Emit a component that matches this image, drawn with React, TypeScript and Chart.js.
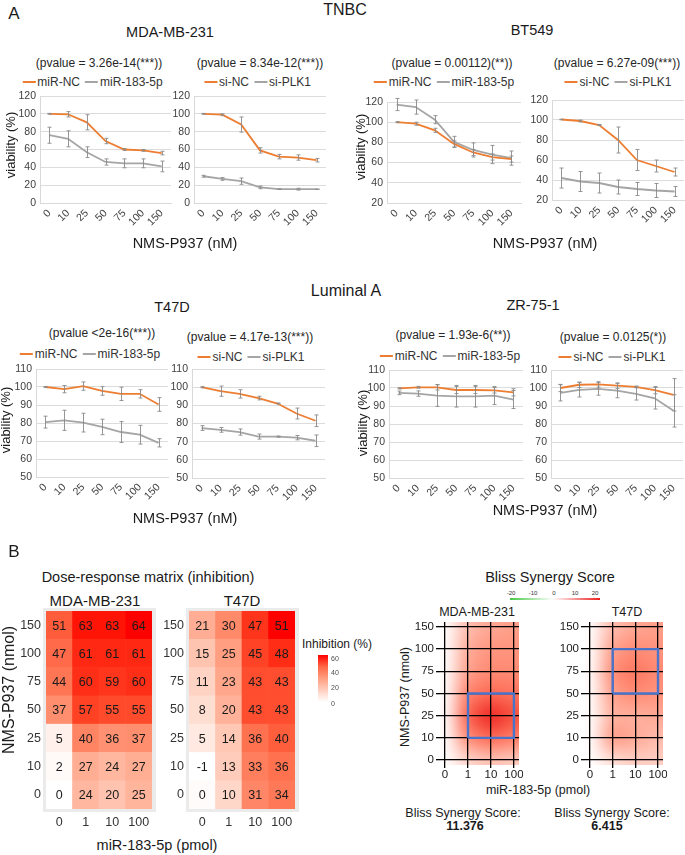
import React, { useEffect, useRef } from 'react';
import { Chart, registerables } from 'chart.js';

Chart.register(...registerables);
const FONT = '"Liberation Sans", Arial, Helvetica, sans-serif';
Chart.defaults.font.family = FONT;

const ORANGE = '#ed7d31';
const GRAY = '#a5a5a5';

// ---------- DATA ----------
const doses = ['0', '10', '25', '50', '75', '100', '150'];
const mirDoses = ['0', '1', '10', '100'];
const heatDoses = ['150', '100', '75', '50', '25', '10', '0'];

// MDA-MB-231
const mdaMiRNC = [100, 99.5, 90.5, 69.5, 60, 59, 56];
const mdaMiRNCErr = [0.5, 3, 8.5, 3, 1, 1, 2];
const mdaMiR183 = [76, 72, 57, 46, 44.5, 44.5, 41];
const mdaMiR183Err = [9, 9, 6, 3.5, 5, 5, 6];
const mdaSiNC = [100, 99, 88, 59, 52, 51, 48];
const mdaSiNCErr = [0.5, 1, 8.5, 3, 2.5, 3, 2];
const mdaSiPLK1 = [30, 27, 24.5, 17.5, 15.5, 15.5, 15.5];
const mdaSiPLK1Err = [1, 1.5, 3.5, 1.5, 0.3, 1, 0.3];

// BT549
const btMiRNC = [100, 98.5, 92, 78.5, 70, 65.5, 63.5];
const btMiRNCErr = [0.5, 1.5, 2, 3, 3, 3, 3];
const btMiR183 = [117.5, 115, 102.5, 80.5, 72.5, 68, 64.5];
const btMiR183Err = [6, 7, 4, 5.5, 7, 9, 7];
const btSiNC = [100.5, 99, 95, 80, 60, 54, 48];
const btSiNCErr = [0.3, 1, 0.5, 13, 10.5, 6, 4];
const btSiPLK1 = [42, 38.5, 37, 33, 31, 29.5, 28.5];
const btSiPLK1Err = [10, 10, 10, 7, 6.5, 7, 5];

// T47D
const t47MiRNC = [100, 98.8, 100.5, 97.8, 96.2, 96.2, 90.3];
const t47MiRNCErr = [0.3, 2, 2.3, 2.4, 3.7, 2.3, 3.8];
const t47MiR183 = [80.5, 81.5, 80.2, 77.8, 75, 73.5, 69];
const t47MiR183Err = [3.3, 5.6, 5.2, 4.3, 5.8, 5.2, 2.3];
const t47SiNC = [100, 97.8, 96.3, 94, 91, 85.5, 81.5];
const t47SiNCErr = [0.3, 2.8, 2.3, 1, 0.3, 3, 3.2];
const t47SiPLK1 = [77.5, 76.5, 75.3, 72.8, 72.8, 72.2, 70.5];
const t47SiPLK1Err = [1.3, 1.3, 1.7, 1.4, 0.3, 1.2, 3.2];

// ZR-75-1
const zrMiRNC = [99.8, 100.4, 100.4, 98.9, 98.9, 98.7, 97.6];
const zrMiRNCErr = [0.3, 0.5, 1.5, 2, 2, 1.5, 2];
const zrMiR183 = [97.3, 96.9, 95.8, 95.4, 95.4, 95.8, 93.6];
const zrMiR183Err = [1, 1.5, 6, 6, 6, 5, 5];
const zrSiNC = [100, 101.8, 102, 101.3, 100.6, 98.8, 96.2];
const zrSiNCErr = [2, 1.5, 1.5, 1.5, 0.5, 2, 9];
const zrSiPLK1 = [97.3, 99, 99.5, 98.6, 96.8, 94.3, 87.3];
const zrSiPLK1Err = [4.5, 4, 3.5, 4, 3.5, 6, 9];

// Dose-response matrix (inhibition), rows top (150) to bottom (0)
const mdaInhibition = [
  [51, 63, 63, 64],
  [47, 61, 61, 61],
  [44, 60, 59, 60],
  [37, 57, 55, 55],
  [5, 40, 36, 37],
  [2, 27, 24, 27],
  [0, 24, 20, 25],
];
const t47Inhibition = [
  [21, 30, 47, 51],
  [15, 25, 45, 48],
  [11, 23, 43, 43],
  [8, 20, 43, 43],
  [5, 14, 36, 40],
  [-1, 13, 33, 36],
  [0, 10, 31, 34],
];

// Bliss synergy surfaces (estimated), rows bottom (0) to top (150)
const mdaBliss = [
  [0, 4, 6, 5],
  [0, 12, 15, 13],
  [0, 16, 20, 17],
  [0, 13, 15, 14],
  [0, 10, 12, 12],
  [0, 9, 11, 11],
  [0, 7, 9, 10],
];
const t47Bliss = [
  [0, 3, 5, 5],
  [0, 11, 9, 7],
  [0, 8, 8, 9],
  [0, 10, 12, 11],
  [0, 12, 14, 12],
  [0, 10, 12, 11],
  [0, 7, 9, 10],
];
const mdaBoxX = ['1', '100'];
const mdaBoxY = ['10', '50'];
const t47BoxX = ['1', '100'];
const t47BoxY = ['50', '100'];

// ---------- COLOR ----------
function s2l(c: number) { c /= 255; return c <= 0.04045 ? c / 12.92 : Math.pow((c + 0.055) / 1.055, 2.4); }
function l2s(c: number) { const v = c <= 0.0031308 ? 12.92 * c : 1.055 * Math.pow(c, 1 / 2.4) - 0.055; return Math.round(Math.max(0, Math.min(1, v)) * 255); }
function toLab(rgb: number[]) {
  const [R, G, B] = rgb.map(s2l);
  const X = (0.4124 * R + 0.3576 * G + 0.1805 * B) / 0.95047;
  const Y = 0.2126 * R + 0.7152 * G + 0.0722 * B;
  const Z = (0.0193 * R + 0.1192 * G + 0.9505 * B) / 1.08883;
  const f = (t: number) => (t > 0.008856 ? Math.cbrt(t) : 7.787 * t + 16 / 116);
  const fx = f(X), fy = f(Y), fz = f(Z);
  return [116 * fy - 16, 500 * (fx - fy), 200 * (fy - fz)];
}
function fromLab(lab: number[]) {
  const [L, a, b] = lab;
  const fy = (L + 16) / 116, fx = fy + a / 500, fz = fy - b / 200;
  const inv = (t: number) => (t * t * t > 0.008856 ? t * t * t : (t - 16 / 116) / 7.787);
  const X = inv(fx) * 0.95047, Y = inv(fy), Z = inv(fz) * 1.08883;
  const R = 3.2406 * X - 1.5372 * Y - 0.4986 * Z;
  const G = -0.9689 * X + 1.8758 * Y + 0.0415 * Z;
  const Bb = 0.0557 * X - 0.204 * Y + 1.057 * Z;
  return [l2s(R), l2s(G), l2s(Bb)];
}
function mix(c0: number[], c1: number[], t: number) {
  t = Math.max(0, Math.min(1, t));
  const a = toLab(c0), b = toLab(c1);
  const c = fromLab(a.map((v, i) => v + (b[i] - v) * t));
  return `rgb(${c[0]},${c[1]},${c[2]})`;
}
const heatColor = (t: number) => mix([255, 255, 255], [255, 0, 0], t);
const blissColor = (v: number) => mix([255, 255, 255], [236, 30, 30], v / 20);

// ---------- PLUGINS ----------
const errorBars = {
  id: 'errorBars',
  afterDatasetsDraw(chart: any) {
    const { ctx } = chart;
    const ys = chart.scales.y;
    chart.data.datasets.forEach((ds: any, i: number) => {
      if (!ds.errors) return;
      const meta = chart.getDatasetMeta(i);
      ctx.save();
      ctx.strokeStyle = '#8a8a8a';
      ctx.lineWidth = 0.9;
      meta.data.forEach((pt: any, j: number) => {
        const v = ds.data[j], e = ds.errors[j];
        if (!e) return;
        const y0 = ys.getPixelForValue(v - e), y1 = ys.getPixelForValue(v + e);
        const x = Math.round(pt.x) + 0.5;
        ctx.beginPath();
        ctx.moveTo(x, y0); ctx.lineTo(x, y1);
        ctx.moveTo(x - 2, y0); ctx.lineTo(x + 2, y0);
        ctx.moveTo(x - 2, y1); ctx.lineTo(x + 2, y1);
        ctx.stroke();
      });
      ctx.restore();
    });
  },
};

const heatPanel = {
  id: 'heatPanel',
  beforeDraw(chart: any) {
    const a = chart.chartArea, ctx = chart.ctx;
    ctx.save();
    ctx.fillStyle = '#ebebeb';
    ctx.fillRect(a.left - 3, a.top - 3, a.right - a.left + 7, a.bottom - a.top + 6);
    ctx.restore();
  },
};

const cellText = {
  id: 'cellText',
  afterDatasetsDraw(chart: any) {
    const ctx = chart.ctx;
    ctx.save();
    ctx.fillStyle = '#1a1a1a';
    ctx.font = `12.5px ${FONT}`;
    ctx.textAlign = 'center';
    ctx.textBaseline = 'middle';
    chart.data.datasets.forEach((ds: any, i: number) => {
      const meta = chart.getDatasetMeta(i);
      meta.data.forEach((el: any, j: number) => {
        ctx.fillText(String(ds.cellValues[j]), el.x, (el.y + el.base) / 2 + 1);
      });
    });
    ctx.restore();
  },
};

const blissSurface = {
  id: 'blissSurface',
  beforeDraw(chart: any, _args: any, opts: any) {
    const m = opts.matrix;
    if (!m) return;
    const { ctx, chartArea: a } = chart;
    const xs = chart.scales.x, ys = chart.scales.y;
    const M = 60;
    const off = document.createElement('canvas');
    off.width = chart.width + 2 * M;
    off.height = chart.height + 2 * M;
    const o = off.getContext('2d')!;
    o.fillStyle = '#ffffff';
    o.fillRect(0, 0, off.width, off.height);
    const nr = m.length, nc = m[0].length;
    for (let r = 0; r < nr; r++) {
      for (let c = 0; c < nc; c++) {
        let x0 = xs.getPixelForValue(c - 0.5), x1 = xs.getPixelForValue(c + 0.5);
        let y0 = ys.getPixelForValue(r + 0.5), y1 = ys.getPixelForValue(r - 0.5);
        if (c === 0) x0 -= 40;
        if (c === nc - 1) x1 += 40;
        if (r === 0) y1 += 40;
        if (r === nr - 1) y0 -= 40;
        o.fillStyle = blissColor(m[r][c]);
        o.fillRect(x0 + M, y0 + M, x1 - x0 + 0.5, y1 - y0 + 0.5);
      }
    }
    ctx.save();
    ctx.beginPath();
    ctx.rect(a.left, a.top, a.right - a.left, a.bottom - a.top);
    ctx.clip();
    ctx.filter = 'blur(9px)';
    ctx.drawImage(off, -M, -M);
    ctx.restore();
  },
};

// ---------- COMPONENTS ----------
function Txt({ x, y, size, children, bold, rotate, color = '#1a1a1a', align = 'center' }: any) {
  const tx = align === 'center' ? '-50%' : align === 'left' ? '0' : '-100%';
  return (
    <div
      style={{
        position: 'absolute', left: x, top: y,
        transform: `translate(${tx}, -50%)${rotate ? ' rotate(-90deg)' : ''}`,
        fontSize: size, fontWeight: bold ? 700 : 400, whiteSpace: 'nowrap',
        lineHeight: 1, color,
      }}
    >
      {children}
    </div>
  );
}

function Legend({ cx, y, items }: any) {
  return (
    <div
      style={{
        position: 'absolute', left: cx, top: y, transform: 'translate(-50%, -50%)',
        display: 'flex', alignItems: 'center', whiteSpace: 'nowrap', fontSize: 12,
        lineHeight: 1, color: '#333',
      }}
    >
      {items.map((it: any, i: number) => (
        <span key={i} style={{ display: 'inline-flex', alignItems: 'center', marginLeft: i ? 5 : 0 }}>
          <span style={{ display: 'inline-block', width: 13, height: 2.5, background: it.color, marginRight: 2 }} />
          {it.label}
        </span>
      ))}
    </div>
  );
}

function LineChart({ area, yMin, yMax, yStep, series }: any) {
  const ref = useRef<HTMLCanvasElement>(null);
  const padL = 36, padT = 8, padR = 5, padB = 34;
  const W = area.r - area.l + padL + padR;
  const H = area.b - area.t + padT + padB;
  useEffect(() => {
    const chart = new Chart(ref.current as any, {
      type: 'line',
      data: {
        labels: doses,
        datasets: series.map((s: any) => ({
          label: s.label, data: s.values, errors: s.errors,
          borderColor: s.color, backgroundColor: s.color,
          borderWidth: 1.8, pointRadius: 0, tension: 0,
        })),
      },
      options: {
        animation: false, responsive: false, devicePixelRatio: 1, events: [],
        layout: { padding: { top: padT, right: padR, left: 0, bottom: 0 } },
        plugins: { legend: { display: false }, tooltip: { enabled: false } },
        scales: {
          x: {
            offset: true,
            grid: { display: false, drawTicks: false },
            border: { color: '#d9d9d9' },
            ticks: { autoSkip: false, minRotation: 45, maxRotation: 45, padding: 4, color: '#404040', font: { size: 10.5, family: FONT } },
            afterFit: (s: any) => { s.height = padB; s.paddingLeft = 0; s.paddingRight = 0; },
          },
          y: {
            min: yMin, max: yMax,
            grid: { color: '#dcdcdc', drawTicks: false },
            border: { color: '#d9d9d9' },
            ticks: { stepSize: yStep, padding: 4, color: '#404040', font: { size: 10.5, family: FONT } },
            afterFit: (s: any) => { s.width = padL; s.paddingTop = 0; s.paddingBottom = 0; },
          },
        },
      } as any,
      plugins: [errorBars],
    });
    return () => chart.destroy();
  }, []);
  return <canvas ref={ref} width={W} height={H} style={{ position: 'absolute', left: area.l - padL, top: area.t - padT, width: W, height: H }} />;
}

function Heatmap({ area, values, vmin, vmax }: any) {
  const ref = useRef<HTMLCanvasElement>(null);
  const padL = 34, padT = 5, padR = 6, padB = 22;
  const W = area.r - area.l + padL + padR;
  const H = area.b - area.t + padT + padB;
  useEffect(() => {
    const rowsUp = [...values].reverse();
    const labelsUp = [...heatDoses].reverse();
    const chart = new Chart(ref.current as any, {
      type: 'bar',
      data: {
        labels: mirDoses,
        datasets: rowsUp.map((row: number[], k: number) => ({
          label: labelsUp[k],
          data: row.map(() => 1),
          cellValues: row,
          backgroundColor: row.map((v) => heatColor((v - vmin) / (vmax - vmin))),
          borderWidth: 0, barPercentage: 1, categoryPercentage: 1,
        })),
      },
      options: {
        animation: false, responsive: false, devicePixelRatio: 1, events: [],
        layout: { padding: { top: padT, right: padR, left: 0, bottom: 0 } },
        plugins: { legend: { display: false }, tooltip: { enabled: false } },
        scales: {
          x: {
            stacked: true,
            grid: { display: false, drawTicks: false },
            border: { display: false },
            ticks: { autoSkip: false, minRotation: 0, maxRotation: 0, padding: 6, color: '#333', font: { size: 12.5, family: FONT } },
            afterFit: (s: any) => { s.height = padB; s.paddingLeft = 0; s.paddingRight = 0; },
          },
          y: {
            type: 'linear', stacked: true, min: 0, max: 7,
            grid: { display: false, drawTicks: false },
            border: { display: false },
            afterBuildTicks: (ax: any) => { ax.ticks = labelsUp.map((_: any, k: number) => ({ value: k + 0.5 })); },
            ticks: { padding: 5, color: '#333', font: { size: 12.5, family: FONT }, callback: (v: any) => labelsUp[Math.round(v - 0.5)] },
            afterFit: (s: any) => { s.width = padL; s.paddingTop = 0; s.paddingBottom = 0; },
          },
        },
      } as any,
      plugins: [heatPanel, cellText],
    });
    return () => chart.destroy();
  }, []);
  return <canvas ref={ref} width={W} height={H} style={{ position: 'absolute', left: area.l - padL, top: area.t - padT, width: W, height: H }} />;
}

function BlissChart({ area, matrix, boxX, boxY }: any) {
  const ref = useRef<HTMLCanvasElement>(null);
  const padL = 28, padT = 4, padR = 4, padB = 16;
  const W = area.r - area.l + padL + padR;
  const H = area.b - area.t + padT + padB;
  useEffect(() => {
    const bx0 = mirDoses.indexOf(boxX[0]), bx1 = mirDoses.indexOf(boxX[1]);
    const by0 = doses.indexOf(boxY[0]), by1 = doses.indexOf(boxY[1]);
    const chart = new Chart(ref.current as any, {
      type: 'scatter',
      data: {
        datasets: [{
          data: [{ x: bx0, y: by0 }, { x: bx1, y: by0 }, { x: bx1, y: by1 }, { x: bx0, y: by1 }, { x: bx0, y: by0 }],
          showLine: true, borderColor: '#4a74c9', borderWidth: 2.4, pointRadius: 0, fill: false, tension: 0,
        }],
      },
      options: {
        animation: false, responsive: false, devicePixelRatio: 1, events: [],
        layout: { padding: { top: padT, right: padR, left: 0, bottom: 0 } },
        plugins: { legend: { display: false }, tooltip: { enabled: false }, blissSurface: { matrix } },
        scales: {
          x: {
            type: 'linear', min: -0.22, max: 3.22,
            afterBuildTicks: (ax: any) => { ax.ticks = mirDoses.map((_, i) => ({ value: i })); },
            grid: { color: '#000', lineWidth: 1.3, drawTicks: true, tickLength: 3, tickColor: '#000' },
            border: { display: false },
            ticks: { autoSkip: false, minRotation: 0, maxRotation: 0, padding: 0, color: '#1a1a1a', font: { size: 11.5, family: FONT }, callback: (v: any) => mirDoses[Math.round(v)] },
            afterFit: (s: any) => { s.height = padB; s.paddingLeft = 0; s.paddingRight = 0; },
          },
          y: {
            type: 'linear', min: -0.22, max: 6.22,
            afterBuildTicks: (ax: any) => { ax.ticks = doses.map((_, i) => ({ value: i })); },
            grid: { color: '#000', lineWidth: 1.3, drawTicks: true, tickLength: 4, tickColor: '#000' },
            border: { display: false },
            ticks: { padding: 2, color: '#1a1a1a', font: { size: 11.5, family: FONT }, callback: (v: any) => doses[Math.round(v)] },
            afterFit: (s: any) => { s.width = padL; s.paddingTop = 0; s.paddingBottom = 0; },
          },
        },
      } as any,
      plugins: [blissSurface],
    });
    return () => chart.destroy();
  }, []);
  return <canvas ref={ref} width={W} height={H} style={{ position: 'absolute', left: area.l - padL, top: area.t - padT, width: W, height: H }} />;
}

const s = (label: string, values: number[], errors: number[], color: string) => ({ label, values, errors, color });

const linePanels = [
  { area: { l: 40, r: 171, t: 96, b: 203 }, min: 0, max: 120, step: 20, pv: '(pvalue = 3.26e-14(***))', pvPos: [99, 63], lgPos: [92.5, 82],
    series: [s('miR-NC', mdaMiRNC, mdaMiRNCErr, ORANGE), s('miR-183-5p', mdaMiR183, mdaMiR183Err, GRAY)] },
  { area: { l: 194, r: 326, t: 96, b: 203 }, min: 0, max: 120, step: 20, pv: '(pvalue = 8.34e-12(***))', pvPos: [260, 63], lgPos: [257.5, 82],
    series: [s('si-NC', mdaSiNC, mdaSiNCErr, ORANGE), s('si-PLK1', mdaSiPLK1, mdaSiPLK1Err, GRAY)] },
  { area: { l: 387, r: 521, t: 102, b: 203 }, min: 20, max: 120, step: 20, pv: '(pvalue = 0.00112)(**))', pvPos: [452, 63], lgPos: [444, 82],
    series: [s('miR-NC', btMiRNC, btMiRNCErr, ORANGE), s('miR-183-5p', btMiR183, btMiR183Err, GRAY)] },
  { area: { l: 552, r: 684, t: 100, b: 200 }, min: 20, max: 120, step: 20, pv: '(pvalue = 6.27e-09(***))', pvPos: [617, 63], lgPos: [618, 82],
    series: [s('si-NC', btSiNC, btSiNCErr, ORANGE), s('si-PLK1', btSiPLK1, btSiPLK1Err, GRAY)] },
  { area: { l: 36, r: 168, t: 369, b: 477 }, min: 50, max: 110, step: 10, pv: '(pvalue <2e-16(***))', pvPos: [102, 333], lgPos: [90, 354],
    series: [s('miR-NC', t47MiRNC, t47MiRNCErr, ORANGE), s('miR-183-5p', t47MiR183, t47MiR183Err, GRAY)] },
  { area: { l: 192, r: 325, t: 369, b: 478 }, min: 50, max: 110, step: 10, pv: '(pvalue = 4.17e-13(***))', pvPos: [250, 337], lgPos: [251, 357],
    series: [s('si-NC', t47SiNC, t47SiNCErr, ORANGE), s('si-PLK1', t47SiPLK1, t47SiPLK1Err, GRAY)] },
  { area: { l: 389, r: 523, t: 370, b: 478 }, min: 50, max: 110, step: 10, pv: '(pvalue = 1.93e-6(**))', pvPos: [453, 335], lgPos: [450, 356],
    series: [s('miR-NC', zrMiRNC, zrMiRNCErr, ORANGE), s('miR-183-5p', zrMiR183, zrMiR183Err, GRAY)] },
  { area: { l: 551, r: 683, t: 370, b: 478 }, min: 50, max: 110, step: 10, pv: '(pvalue = 0.0125(*))', pvPos: [613, 337], lgPos: [612, 357],
    series: [s('si-NC', zrSiNC, zrSiNCErr, ORANGE), s('si-PLK1', zrSiPLK1, zrSiPLK1Err, GRAY)] },
];

export default function App() {
  const barStops = [0, 0.25, 0.5, 0.75, 1].map((t) => `${heatColor(t)} ${t * 100}%`).join(', ');
  return (
    <div style={{ position: 'absolute', left: 0, top: 0, width: 685, height: 855, overflow: 'hidden', background: '#fff', fontFamily: FONT, color: '#1a1a1a' }}>
      {/* Section A */}
      <Txt x={14} y={13} size={17}>A</Txt>
      <Txt x={345} y={10} size={16}>TNBC</Txt>
      <Txt x={170} y={32} size={14.5}>MDA-MB-231</Txt>
      <Txt x={532} y={30} size={14.5}>BT549</Txt>
      <Txt x={346} y={291} size={16}>Luminal A</Txt>
      <Txt x={172} y={307} size={14.5}>T47D</Txt>
      <Txt x={533} y={305} size={14.5}>ZR-75-1</Txt>

      {linePanels.map((p, i) => (
        <React.Fragment key={i}>
          <Txt x={p.pvPos[0]} y={p.pvPos[1]} size={12} color="#262626">{p.pv}</Txt>
          <Legend cx={p.lgPos[0]} y={p.lgPos[1]} items={p.series} />
          <LineChart area={p.area} yMin={p.min} yMax={p.max} yStep={p.step} series={p.series} />
        </React.Fragment>
      ))}

      <Txt x={10} y={145} size={13} rotate>viability (%)</Txt>
      <Txt x={360} y={147} size={13} rotate>viability (%)</Txt>
      <Txt x={5} y={420} size={13} rotate>viability (%)</Txt>
      <Txt x={362} y={423} size={13} rotate>viability (%)</Txt>
      <Txt x={185} y={243} size={14.5}>NMS-P937 (nM)</Txt>
      <Txt x={545} y={243} size={14.5}>NMS-P937 (nM)</Txt>
      <Txt x={185} y={518} size={14.5}>NMS-P937 (nM)</Txt>
      <Txt x={545} y={510} size={14.5}>NMS-P937 (nM)</Txt>

      {/* Section B */}
      <Txt x={14} y={551} size={17}>B</Txt>
      <Txt x={148} y={577} size={14.5}>Dose-response matrix (inhibition)</Txt>
      <Txt x={95} y={600} size={15}>MDA-MB-231</Txt>
      <Txt x={242} y={600} size={15}>T47D</Txt>
      <Heatmap area={{ l: 46, r: 152, t: 611, b: 809 }} values={mdaInhibition} vmin={0} vmax={64} />
      <Heatmap area={{ l: 189, r: 295, t: 611, b: 809 }} values={t47Inhibition} vmin={-1} vmax={51} />
      <Txt x={9} y={690} size={16} rotate>NMS-P937 (nmol)</Txt>
      <Txt x={157} y={845} size={14.5}>miR-183-5p (pmol)</Txt>
      <Txt x={302} y={644} size={12} align="left">Inhibition (%)</Txt>
      <div style={{ position: 'absolute', left: 318, top: 655, width: 10, height: 47, background: `linear-gradient(to top, ${barStops})` }} />
      <Txt x={331} y={658} size={7} align="left" color="#4d4d4d">60</Txt>
      <Txt x={331} y={672} size={7} align="left" color="#4d4d4d">40</Txt>
      <Txt x={331} y={687} size={7} align="left" color="#4d4d4d">20</Txt>
      <Txt x={331} y={703} size={7} align="left" color="#4d4d4d">0</Txt>

      <Txt x={550} y={577} size={14.5}>Bliss Synergy Score</Txt>
      <div style={{ position: 'absolute', left: 510, top: 598, width: 43, height: 2, background: 'linear-gradient(to right, rgb(70,200,70), #ffffff)' }} />
      <div style={{ position: 'absolute', left: 553, top: 598, width: 47, height: 2, background: `linear-gradient(to right, #ffffff, ${blissColor(20)})` }} />
      <Txt x={511} y={593} size={6} color="#333">-20</Txt>
      <Txt x={533} y={593} size={6} color="#333">-10</Txt>
      <Txt x={554} y={593} size={6} color="#333">0</Txt>
      <Txt x={575} y={593} size={6} color="#333">10</Txt>
      <Txt x={595} y={593} size={6} color="#333">20</Txt>
      <Txt x={477} y={612} size={12.5}>MDA-MB-231</Txt>
      <Txt x={627} y={612} size={12.5}>T47D</Txt>
      <BlissChart area={{ l: 440, r: 519, t: 622, b: 765 }} matrix={mdaBliss} boxX={mdaBoxX} boxY={mdaBoxY} />
      <BlissChart area={{ l: 585, r: 663, t: 622, b: 765 }} matrix={t47Bliss} boxX={t47BoxX} boxY={t47BoxY} />
      <Txt x={405} y={697} size={12.5} rotate>NMS-P937 (nmol)</Txt>
      <Txt x={538} y={790} size={12.5}>miR-183-5p (pmol)</Txt>
      <Txt x={463} y={813} size={12.5}>Bliss Synergy Score:</Txt>
      <Txt x={465} y={826} size={12.5} bold>11.376</Txt>
      <Txt x={612} y={813} size={12.5}>Bliss Synergy Score:</Txt>
      <Txt x={607} y={826} size={12.5} bold>6.415</Txt>
    </div>
  );
}
